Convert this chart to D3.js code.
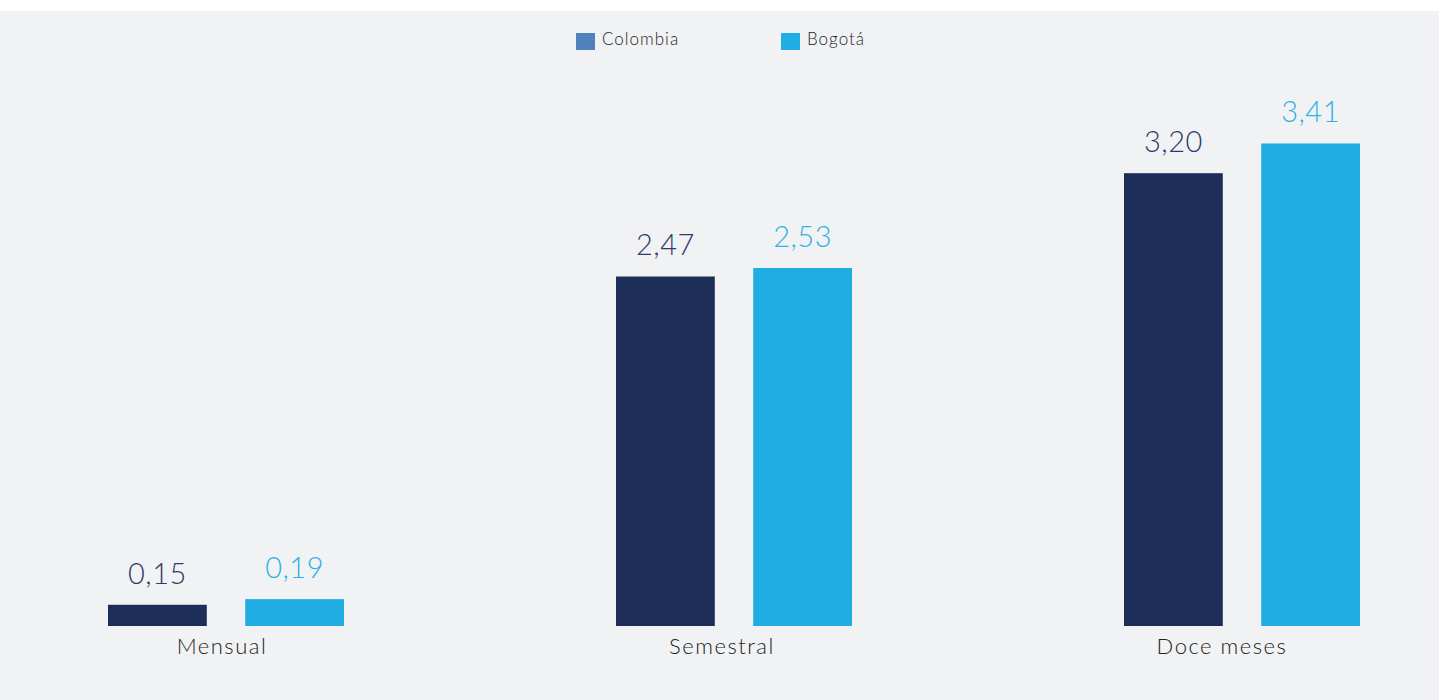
<!DOCTYPE html>
<html lang="es">
  <head>
    <meta charset="UTF-8" />
    <title>Variación IPC Colombia y Bogotá</title>
    <script src="https://d3js.org/d3.v7.min.js"></script>
    <style>
      body {
        margin: 0;
        background: #ffffff;
      }
      svg {
        display: block;
        font-family: Lato, "Open Sans", sans-serif;
      }
      .cat_label {
        font-size: 22px;
        font-weight: 300;
        fill: #222222;
        letter-spacing: 1.5px;
      }
      .val_label {
        font-size: 29px;
        font-weight: 300;
        letter-spacing: 0.5px;
      }
      .legend_text {
        font-size: 17px;
        font-weight: 300;
        fill: #222222;
        letter-spacing: 1px;
      }
    </style>
  </head>
  <body>
    <svg width="1439" height="700"></svg>

    <script>
      // data
      const categories = ["Mensual", "Semestral", "Doce meses"];
      const seriesNames = ["Colombia", "Bogotá"];
      const colombia = [0.15, 2.47, 3.2];
      const bogota = [0.19, 2.53, 3.41];

      const barColors = { Colombia: "#1c2d58", Bogotá: "#1fade4" };
      const legendColors = { Colombia: "#4f81bd", Bogotá: "#1fade4" };
      const labelColors = { Colombia: "#2c3c66", Bogotá: "#2fb0e6" };

      const width = 1439,
        height = 700;
      const svg = d3.select("svg");

      // background: white strip on top, light grey panel
      svg.append("rect").attr("width", width).attr("height", height).attr("fill", "#ffffff");
      svg
        .append("rect")
        .attr("y", 11)
        .attr("width", width)
        .attr("height", height - 11)
        .attr("fill", "#f1f2f4");

      // rows for the grouped bars
      const rows = categories.map((c, i) => ({
        cat: c,
        values: [
          { key: "Colombia", value: colombia[i] },
          { key: "Bogotá", value: bogota[i] },
        ],
      }));

      // scales
      const x0 = d3
        .scaleBand()
        .domain(categories)
        .range([-28, 1496])
        .paddingInner(0)
        .paddingOuter(0);

      const x1 = d3
        .scaleBand()
        .domain(seriesNames)
        .range([x0.bandwidth() / 2 - 118, x0.bandwidth() / 2 + 118])
        .paddingInner(0.28)
        .paddingOuter(0);

      // labels sit a little apart from the bar groups in the original
      const xLabel = d3.scalePoint().domain(categories).range([222, 1222]);

      const y = d3.scaleLinear().domain([0, 4]).range([626, 60]);

      // bars
      const groups = svg
        .append("g")
        .selectAll("g")
        .data(rows)
        .join("g")
        .attr("transform", (d) => `translate(${x0(d.cat)},0)`);

      groups
        .selectAll("rect")
        .data((d) => d.values)
        .join("rect")
        .attr("x", (d) => x1(d.key))
        .attr("width", x1.bandwidth())
        .attr("y", (d) => y(d.value))
        .attr("height", (d) => y(0) - y(d.value))
        .attr("fill", (d) => barColors[d.key]);

      // value labels
      const fmt = (v) => d3.format(".2f")(v).replace(".", ",");
      groups
        .selectAll("text.val_label")
        .data((d) => d.values)
        .join("text")
        .attr("class", "val_label")
        .attr("x", (d) => x1(d.key) + x1.bandwidth() / 2)
        .attr("y", (d) => y(d.value) - 21)
        .attr("text-anchor", "middle")
        .attr("fill", (d) => labelColors[d.key])
        .text((d) => fmt(d.value));

      // category labels
      svg
        .append("g")
        .selectAll("text")
        .data(categories)
        .join("text")
        .attr("class", "cat_label")
        .attr("x", (d) => xLabel(d))
        .attr("y", 654)
        .attr("text-anchor", "middle")
        .text((d) => d);

      // legend
      const legendX = d3.scalePoint().domain(seriesNames).range([576, 781]);
      const legend = svg
        .append("g")
        .selectAll("g")
        .data(seriesNames)
        .join("g")
        .attr("transform", (d) => `translate(${legendX(d)},33)`);

      legend
        .append("rect")
        .attr("width", 19)
        .attr("height", 17)
        .attr("fill", (d) => legendColors[d]);

      legend
        .append("text")
        .attr("class", "legend_text")
        .attr("x", 26)
        .attr("y", 12)
        .text((d) => d);
    </script>
  </body>
</html>
